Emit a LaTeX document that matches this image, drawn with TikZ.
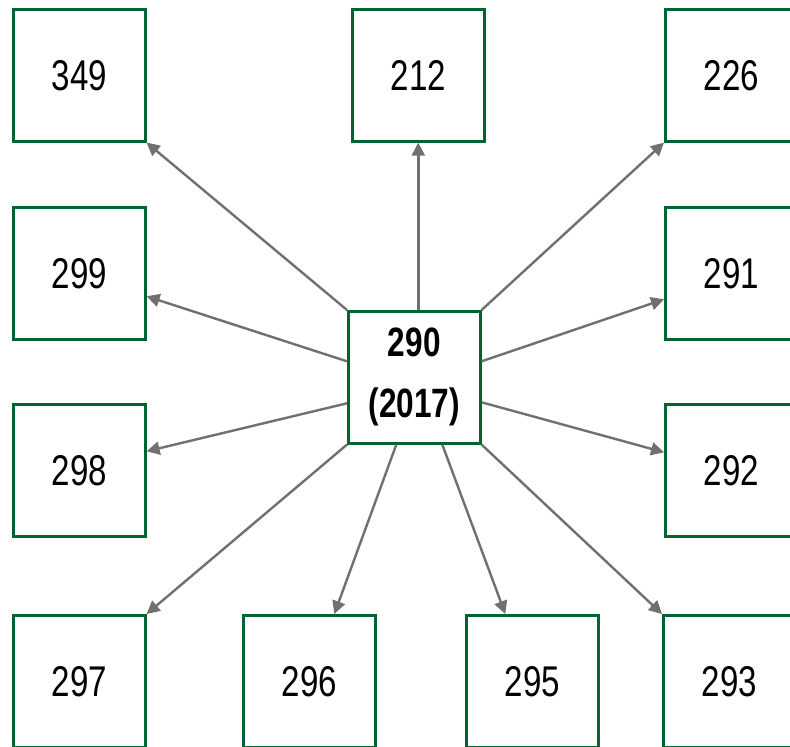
\documentclass[tikz,border=0pt]{standalone}
\usepackage{fontspec}
\setmainfont{Liberation Sans}[FakeStretch=0.77]
\usetikzlibrary{arrows.meta,calc}
\definecolor{boxgreen}{RGB}{0,100,50}
\definecolor{arrowgray}{RGB}{112,112,112}
\begin{document}
\begin{tikzpicture}[x=1pt,y=-1pt,
  numbox/.style={draw=boxgreen,line width=2.6pt,fill=white,minimum width=132pt,minimum height=132pt,inner sep=0pt,anchor=north west,font=\fontsize{43}{50}\selectfont},
  mainbox/.style={numbox,align=center,font=\fontsize{41}{61}\selectfont\bfseries},
  link/.style={draw=arrowgray,line width=2.4pt,-{Triangle[length=13pt,width=13pt]}}]
\useasboundingbox (0,0) rectangle (790,747);
\clip (0,0) rectangle (790,747);
\node[numbox] (b349) at (12,8) {349};
\node[numbox] (b212) at (351,8) {212};
\node[numbox] (b226) at (664,8) {226};
\node[numbox] (b299) at (12,206) {299};
\node[numbox] (b291) at (664,206) {291};
\node[numbox] (b298) at (12,403) {298};
\node[numbox] (b292) at (664,403) {292};
\node[numbox] (b297) at (12,614) {297};
\node[numbox] (b296) at (242,614) {296};
\node[numbox] (b295) at (465,614) {295};
\node[numbox] (b293) at (662,614) {293};
\node[mainbox] (c) at (347,310) {290\\(2017)};
\draw[link] (c.north west) -- (b349.south east);
\draw[link] (b212.south |- c.north) -- (b212.south);
\draw[link] (c.north east) -- (b226.south west);
\draw[link] ([yshift=16pt]c.west) -- ([yshift=-23pt]b299.east);
\draw[link] ([yshift=16pt]c.east) -- ([yshift=-26pt]b291.west);
\draw[link] ([yshift=-26pt]c.west) -- ([yshift=19pt]b298.east);
\draw[link] ([yshift=-25pt]c.east) -- ([yshift=18pt]b292.west);
\draw[link] (c.south west) -- (b297.north east);
\draw[link] ([xshift=-18pt]c.south) -- ([xshift=25pt]b296.north);
\draw[link] ([xshift=28pt]c.south) -- ([xshift=-27pt]b295.north);
\draw[link] (c.south east) -- (b293.north west);
\end{tikzpicture}
\end{document}
